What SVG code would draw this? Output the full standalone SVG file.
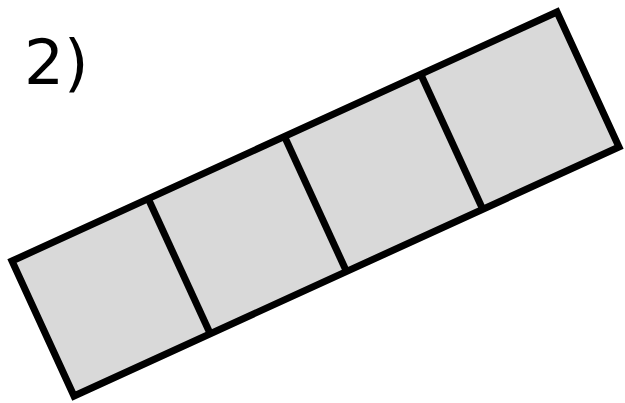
<svg xmlns="http://www.w3.org/2000/svg" width="625" height="403" viewBox="0 0 625 403">
<style>
.cell{fill:#d9d9d9;stroke:#000;stroke-width:7;stroke-linejoin:miter}
.div{stroke:#000;stroke-width:7;fill:none}
.lbl{font-family:"DejaVu Sans",sans-serif;font-size:63px;fill:#000}
</style>
<rect width="625" height="403" fill="#fff"/>
<g id="label"><text class="lbl" x="24" y="84">2)</text></g>
<g id="strip">
<polygon class="cell" points="12,261 557,12 619,147 74,396"/>
</g>
<g id="dividers">
<line class="div" x1="148.25" y1="198.75" x2="210.25" y2="333.75"/>
<line class="div" x1="284.5" y1="136.5" x2="346.5" y2="271.5"/>
<line class="div" x1="420.75" y1="74.25" x2="482.75" y2="209.25"/>
</g>
</svg>
